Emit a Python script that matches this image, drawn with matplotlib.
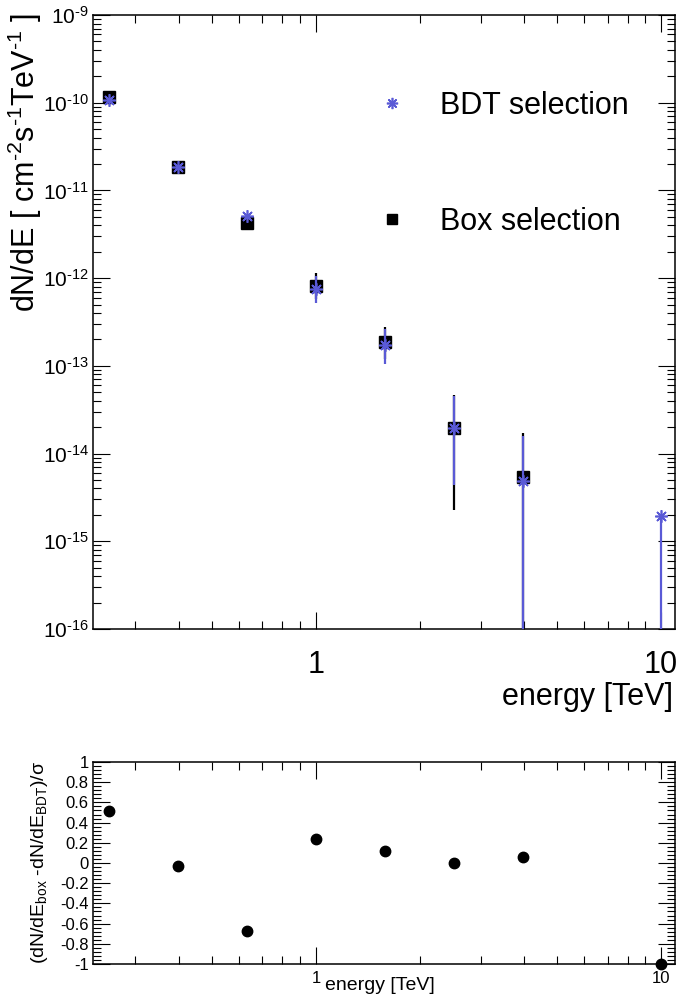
import matplotlib
matplotlib.use("Agg")
import matplotlib.pyplot as plt
import numpy as np
from matplotlib.ticker import FixedLocator, LogLocator, MultipleLocator, NullFormatter

plt.rcParams["font.family"] = ["Liberation Sans", "DejaVu Sans"]
plt.rcParams["mathtext.fontset"] = "custom"
plt.rcParams["mathtext.rm"] = "Liberation Sans"
plt.rcParams["mathtext.default"] = "regular"

BLUE = "#5a5ad6"

# energy bins [TeV]
energy = [0.251, 0.398, 0.631, 1.0, 1.585, 2.512, 3.981, 10.0]

# BDT selection: flux and error-bar ends
bdt_flux = [1.07e-10, 1.85e-11, 5.1e-12, 7.5e-13, 1.72e-13, 1.95e-14, 4.9e-15, 1.95e-15]
bdt_hi = [1.13e-10, 1.95e-11, 5.4e-12, 1.05e-12, 2.6e-13, 4.5e-14, 1.6e-14, 1.95e-15]
bdt_lo = [1.01e-10, 1.75e-11, 4.8e-12, 5.2e-13, 1.05e-13, 4.4e-15, 0.0, 0.0]

# Box selection (no entry in the last bin)
box_energy = [0.251, 0.398, 0.631, 1.0, 1.585, 2.512, 3.981]
box_flux = [1.15e-10, 1.85e-11, 4.3e-12, 8.1e-13, 1.86e-13, 1.95e-14, 5.4e-15]
box_hi = [1.2e-10, 1.95e-11, 4.6e-12, 1.15e-12, 2.8e-13, 4.7e-14, 1.7e-14]
box_lo = [1.1e-10, 1.6e-11, 3.6e-12, 5.8e-13, 1.2e-13, 2.3e-15, 0.0]

# (box - BDT) / sigma
pull = [0.51, -0.03, -0.67, 0.24, 0.12, 0.0, 0.06, -1.0]

ytick_exp = [-16, -15, -14, -13, -12, -11, -10, -9]
pull_ticks = [-1, -0.8, -0.6, -0.4, -0.2, 0, 0.2, 0.4, 0.6, 0.8, 1]
pull_labels = ["-1", "-0.8", "-0.6", "-0.4", "-0.2", "0", "0.2", "0.4", "0.6", "0.8", "1"]

YMIN, YMAX = 1e-16, 1e-9

W, H = 678, 1001
fig = plt.figure(figsize=(W / 100, H / 100), dpi=100)
ax1 = fig.add_axes([93 / W, 1 - 629 / H, 582 / W, 614 / H])
ax2 = fig.add_axes([93 / W, 1 - 964 / H, 582 / W, 202 / H])

for ax in (ax1, ax2):
    ax.set_xscale("log")
    ax.set_xlim(0.226, 10.98)
    ax.xaxis.set_major_locator(FixedLocator([1, 10]))
    ax.xaxis.set_minor_locator(LogLocator(base=10, subs=range(2, 10)))
    ax.xaxis.set_minor_formatter(NullFormatter())
    ax.tick_params(which="both", direction="in", top=True, right=True, colors="black")
    ax.tick_params(which="major", length=12, width=0.8)
    ax.tick_params(which="minor", length=6, width=0.8)
    for s in ax.spines.values():
        s.set_linewidth(1.1)

# ---- top: spectra ----
ax1.set_yscale("log")
ax1.set_ylim(YMIN, YMAX)
ax1.yaxis.set_major_locator(FixedLocator([10.0 ** e for e in ytick_exp]))
ax1.set_yticklabels([f"$10^{{\\text{{{e}}}}}$" for e in ytick_exp])
ax1.yaxis.set_minor_locator(LogLocator(base=10, subs=range(2, 10), numticks=20))
ax1.yaxis.set_minor_formatter(NullFormatter())
ax1.tick_params(axis="y", which="major", labelsize=15, pad=3)
ax1.set_xticklabels(["1", "10"])
ax1.tick_params(axis="x", which="major", labelsize=22, pad=15)

# error bars reaching zero run off the bottom of the log axis
box_lo_plot = np.maximum(box_lo, YMIN * 0.1)
bdt_lo_plot = np.maximum(bdt_lo, YMIN * 0.1)

ax1.vlines(box_energy, box_lo_plot, box_hi, colors="black", lw=1.6, zorder=2)
ax1.plot(box_energy, box_flux, ls="none", marker="s", ms=8, color="black",
         label="Box selection", zorder=3)
ax1.vlines(energy, bdt_lo_plot, bdt_hi, colors=BLUE, lw=1.6, zorder=4)
ax1.plot(energy, bdt_flux, ls="none", marker=(8, 2, 0), ms=9, mew=1.2, color=BLUE,
         label="BDT selection", zorder=5)

handles, labels = ax1.get_legend_handles_labels()
leg = ax1.legend(handles[::-1], labels[::-1], loc="upper left",
                 bbox_to_anchor=(0.488, 0.876), frameon=False, fontsize=22,
                 handlelength=1.0, handletextpad=1.05, labelspacing=2.8,
                 borderpad=0, borderaxespad=0, markerscale=0.9)

fig.text(25 / W, 1 - 13 / H,
         "dN/dE [ cm$^{\\text{-2}}$s$^{\\text{-1}}$TeV$^{\\text{-1}}$ ]",
         rotation=90, ha="center", va="top", fontsize=22)
fig.text(673 / W, 1 - 697 / H, "energy [TeV]", ha="right", va="center", fontsize=22)

# ---- bottom: pull ----
ax2.set_ylim(-1, 1)
ax2.yaxis.set_major_locator(FixedLocator(pull_ticks))
ax2.set_yticklabels(pull_labels)
ax2.yaxis.set_minor_locator(MultipleLocator(0.04))
ax2.tick_params(axis="y", which="major", labelsize=12, pad=3)
ax2.set_xticklabels(["1", "10"])
ax2.tick_params(axis="x", which="major", labelsize=12, pad=5)
ax2.plot(energy, pull, ls="none", marker="o", ms=7.5, color="black", clip_on=False, zorder=5)

fig.text(40 / W, 1 - 862 / H,
         "(dN/dE$_{box}$ -dN/dE$_{BDT}$)/σ",
         rotation=90, ha="center", va="center", fontsize=14)
fig.text(325 / W, 1 - 986 / H, "energy [TeV]", ha="left", va="center", fontsize=14)

fig.savefig("out.png", dpi=100)
